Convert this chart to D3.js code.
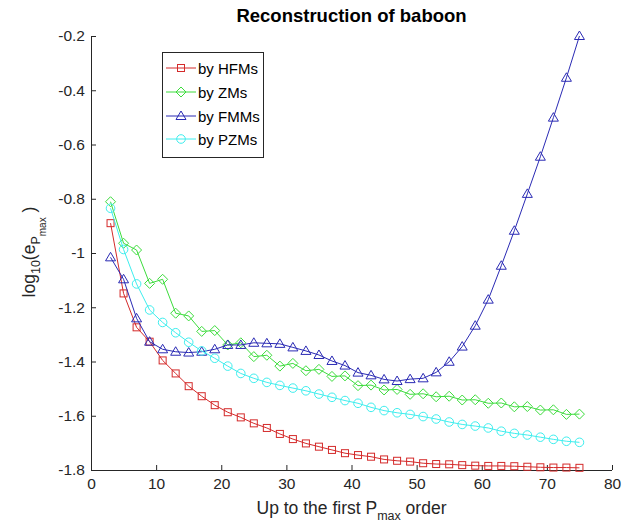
<!DOCTYPE html>
<html>
<head>
<meta charset="utf-8">
<script src="https://d3js.org/d3.v7.min.js"></script>
<style>
body{ margin:0; background:#fff; }
svg{ display:block; font-family:"Liberation Sans", Arial, sans-serif; }
</style>
</head>
<body>
<div id="chart"></div>
<script>
// orders (x values)
var orders = [3,5,7,9,11,13,15,17,19,21,23,25,27,29,31,33,35,37,39,41,43,45,47,49,51,53,55,57,59,61,63,65,67,69,71,73,75];

var hfm = [-0.89,-1.149,-1.274,-1.327,-1.396,-1.444,-1.491,-1.528,-1.561,-1.587,-1.606,-1.628,-1.645,-1.667,-1.686,-1.702,-1.714,-1.726,
           -1.738,-1.745,-1.751,-1.761,-1.766,-1.769,-1.775,-1.778,-1.779,-1.782,-1.784,-1.785,-1.785,-1.786,-1.788,-1.790,-1.791,-1.791,-1.792];
var zm  = [-0.811,-0.964,-0.989,-1.112,-1.097,-1.222,-1.232,-1.289,-1.286,-1.339,-1.331,-1.382,-1.377,-1.417,-1.407,-1.434,-1.429,-1.455,
           -1.453,-1.489,-1.487,-1.505,-1.503,-1.521,-1.519,-1.530,-1.528,-1.542,-1.541,-1.554,-1.553,-1.567,-1.566,-1.579,-1.578,-1.595,-1.594];
var fmm = [-1.016,-1.097,-1.241,-1.327,-1.355,-1.364,-1.367,-1.364,-1.355,-1.339,-1.339,-1.331,-1.333,-1.335,-1.348,-1.361,-1.376,-1.398,
           -1.415,-1.441,-1.451,-1.466,-1.472,-1.465,-1.462,-1.440,-1.401,-1.345,-1.268,-1.172,-1.047,-0.918,-0.782,-0.645,-0.501,-0.354,-0.20];
var pzm = [-0.835,-0.987,-1.114,-1.21,-1.256,-1.294,-1.329,-1.361,-1.388,-1.417,-1.444,-1.462,-1.477,-1.488,-1.498,-1.508,-1.52,-1.532,
           -1.544,-1.554,-1.569,-1.581,-1.589,-1.595,-1.603,-1.612,-1.623,-1.632,-1.638,-1.645,-1.657,-1.665,-1.671,-1.679,-1.687,-1.694,-1.698];

var seriesNames = ["by HFMs","by ZMs","by FMMs","by PZMs"];
var seriesVals = [hfm, zm, fmm, pzm];
var seriesColors = ["#d42a2a","#3cdc3c","#2a2ab4","#3eeeee"];
var seriesMarks = ["square","diamond","triangle","circle"];

var xTicks = [0,10,20,30,40,50,60,70,80];
var yTicks = [-0.2,-0.4,-0.6,-0.8,-1,-1.2,-1.4,-1.6,-1.8];

var W = 624, H = 526;
var L = 91, R = 612, T = 36, B = 470;

var svg = d3.select("#chart").append("svg")
  .attr("width", W).attr("height", H);

var x = d3.scaleLinear().domain([0,80]).range([L,R]);
var y = d3.scaleLinear().domain([-1.8,-0.2]).range([B,T]);

// axes, ticks inside
var xAxis = d3.axisBottom(x).tickValues(xTicks).tickSize(-5).tickPadding(8).tickFormat(d3.format("d"));
var yAxis = d3.axisLeft(y).tickValues(yTicks).tickSize(-5).tickPadding(6).tickFormat(function(d){ return String(d); });

var gx = svg.append("g").attr("transform","translate(0,"+B+")").call(xAxis);
var gy = svg.append("g").attr("transform","translate("+L+",0)").call(yAxis);
[gx, gy].forEach(function(g){
  g.selectAll("line").attr("stroke","#262626");
  g.selectAll("text").attr("fill","#262626").style("font-size","15.5px")
    .style("font-family","'Liberation Sans', Arial, sans-serif");
});
gx.select("path.domain").remove();
gy.select("path.domain").remove();
svg.append("line").attr("x1",L).attr("x2",R).attr("y1",B+0.5).attr("y2",B+0.5).attr("stroke","#262626");
svg.append("line").attr("x1",L+0.5).attr("x2",L+0.5).attr("y1",T).attr("y2",B).attr("stroke","#262626");

function marker(g, type, cx, cy, color){
  if (type === "square"){
    g.append("rect").attr("x",cx-3.5).attr("y",cy-3.5).attr("width",7).attr("height",7)
      .attr("fill","none").attr("stroke",color);
  } else if (type === "diamond"){
    g.append("path").attr("d","M"+cx+","+(cy-5)+"L"+(cx+5)+","+cy+"L"+cx+","+(cy+5)+"L"+(cx-5)+","+cy+"Z")
      .attr("fill","none").attr("stroke",color);
  } else if (type === "triangle"){
    g.append("path").attr("d","M"+cx+","+(cy-5)+"L"+(cx+5)+","+(cy+3.5)+"L"+(cx-5)+","+(cy+3.5)+"Z")
      .attr("fill","none").attr("stroke",color);
  } else {
    g.append("circle").attr("cx",cx).attr("cy",cy).attr("r",4.3)
      .attr("fill","none").attr("stroke",color);
  }
}

var line = d3.line().x(function(d){ return x(d[0]); }).y(function(d){ return y(d[1]); });

seriesVals.forEach(function(vals, k){
  var pts = orders.map(function(o,i){ return [o, vals[i]]; });
  var g = svg.append("g");
  g.append("path").attr("d", line(pts)).attr("fill","none")
    .attr("stroke", seriesColors[k]).attr("stroke-width",1);
  pts.forEach(function(p){ marker(g, seriesMarks[k], x(p[0]), y(p[1]), seriesColors[k]); });
});

// title
svg.append("text").attr("x",(L+R)/2).attr("y",22).attr("text-anchor","middle")
  .style("font-weight","bold").style("font-size","18.5px").attr("fill","#000")
  .text("Reconstruction of baboon");

// x label
var xl = svg.append("text").attr("x",(L+R)/2).attr("y",514).attr("text-anchor","middle")
  .style("font-size","17.5px").attr("fill","#262626");
xl.append("tspan").text("Up to the first P");
xl.append("tspan").attr("dy",6).style("font-size","12.5px").text("max");
xl.append("tspan").attr("dy",-6).text(" order");

// y label
var yl = svg.append("text").attr("transform","translate(35,252) rotate(-90)")
  .attr("text-anchor","middle").style("font-size","17.5px").attr("fill","#262626");
yl.append("tspan").text("log");
yl.append("tspan").attr("dy",5).style("font-size","12.5px").text("10");
yl.append("tspan").attr("dy",-5).text("(e");
yl.append("tspan").attr("dy",5).style("font-size","12.5px").text("P");
yl.append("tspan").attr("dy",6).style("font-size","10px").text("max");
yl.append("tspan").attr("dy",-11).text("  )");

// legend
var lg = svg.append("g");
lg.append("rect").attr("x",162.5).attr("y",52.5).attr("width",101).attr("height",105)
  .attr("fill","#fff").attr("stroke","#262626");
var legY = [68, 92, 116, 139];
seriesNames.forEach(function(name,k){
  lg.append("line").attr("x1",166).attr("x2",196).attr("y1",legY[k]).attr("y2",legY[k])
    .attr("stroke",seriesColors[k]);
  marker(lg, seriesMarks[k], 181, legY[k], seriesColors[k]);
  lg.append("text").attr("x",198).attr("y",legY[k]+5.5).style("font-size","15px")
    .attr("fill","#000").text(name);
});
</script>
</body>
</html>
